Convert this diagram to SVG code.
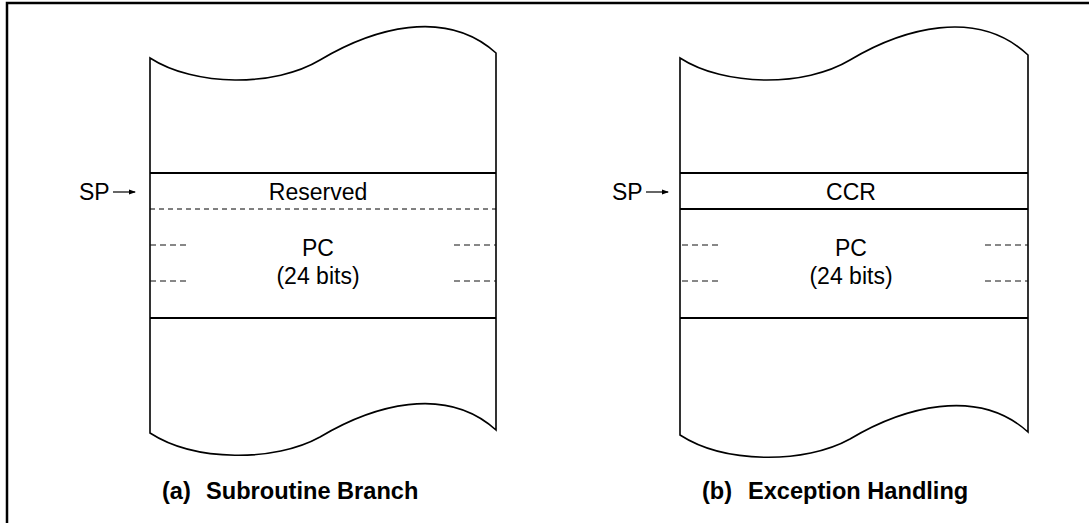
<svg xmlns="http://www.w3.org/2000/svg" width="1089" height="523" viewBox="0 0 1089 523">
<style>
.col{fill:none;stroke:#000;stroke-width:1.6}
.sep{stroke:#000;stroke-width:2}
.dash{stroke:#000;stroke-width:1;stroke-dasharray:5,4}
.sdash{stroke:#111;stroke-width:1;stroke-dasharray:6,4}
.t{font-family:"Liberation Sans",Arial,sans-serif;font-size:23px;fill:#000}
.c{text-anchor:middle}
.cap{font-family:"Liberation Sans",Arial,sans-serif;font-size:23.6px;font-weight:bold;fill:#000}
.arr{stroke:#000;stroke-width:1.2}
</style>
<defs>
<marker id="ah" markerWidth="7" markerHeight="6" refX="6" refY="3" orient="auto" markerUnits="userSpaceOnUse">
<path d="M0,0.5 L7,3 L0,5.5 Z" fill="#000"/>
</marker>
</defs>
<rect x="7" y="3" width="1100" height="540" fill="none" stroke="#000" stroke-width="2.5"/>
<g id="stack-a">
<path class="col" d="M150,58 C195,87 275,87 320,60 C372,29 445,7 496,53 L496,430 C445,384 372,406 320,437 C275,462 195,462 150,433 Z"/>
<line class="sep" x1="150" y1="173" x2="496" y2="173"/>
<line class="dash" x1="150" y1="209" x2="496" y2="209"/>
<line class="sep" x1="150" y1="318" x2="496" y2="318"/>
<line class="sdash" x1="150" y1="245" x2="189" y2="245"/>
<line class="sdash" x1="150" y1="281" x2="189" y2="281"/>
<line class="sdash" x1="454" y1="245" x2="496" y2="245"/>
<line class="sdash" x1="454" y1="281" x2="496" y2="281"/>
<text class="t c" x="318" y="200">Reserved</text>
<text class="t c" x="318" y="256">PC</text>
<text class="t c" x="318" y="284">(24 bits)</text>
<text class="t" x="79" y="200">SP</text>
<line class="arr" x1="113" y1="192" x2="135" y2="192" marker-end="url(#ah)"/>
<text class="cap" x="162" y="499">(a)</text>
<text class="cap" x="206" y="499">Subroutine Branch</text>
</g>
<g id="stack-b">
<path class="col" d="M680,58 C725,87 805,87 850,60 C902,29 977,7 1028,55 L1028,432 C977,386 902,408 850,439 C805,464 725,464 680,435 Z"/>
<line class="sep" x1="680" y1="173" x2="1028" y2="173"/>
<line class="sep" x1="680" y1="209" x2="1028" y2="209"/>
<line class="sep" x1="680" y1="318" x2="1028" y2="318"/>
<line class="sdash" x1="682" y1="245" x2="720" y2="245"/>
<line class="sdash" x1="682" y1="281" x2="720" y2="281"/>
<line class="sdash" x1="985" y1="245" x2="1028" y2="245"/>
<line class="sdash" x1="985" y1="281" x2="1028" y2="281"/>
<text class="t c" x="851" y="200">CCR</text>
<text class="t c" x="851" y="256">PC</text>
<text class="t c" x="851" y="284">(24 bits)</text>
<text class="t" x="612" y="200">SP</text>
<line class="arr" x1="646" y1="192" x2="668" y2="192" marker-end="url(#ah)"/>
<text class="cap" x="702" y="499">(b)</text>
<text class="cap" x="748" y="499">Exception Handling</text>
</g>
<g id="connectors"/>
</svg>
